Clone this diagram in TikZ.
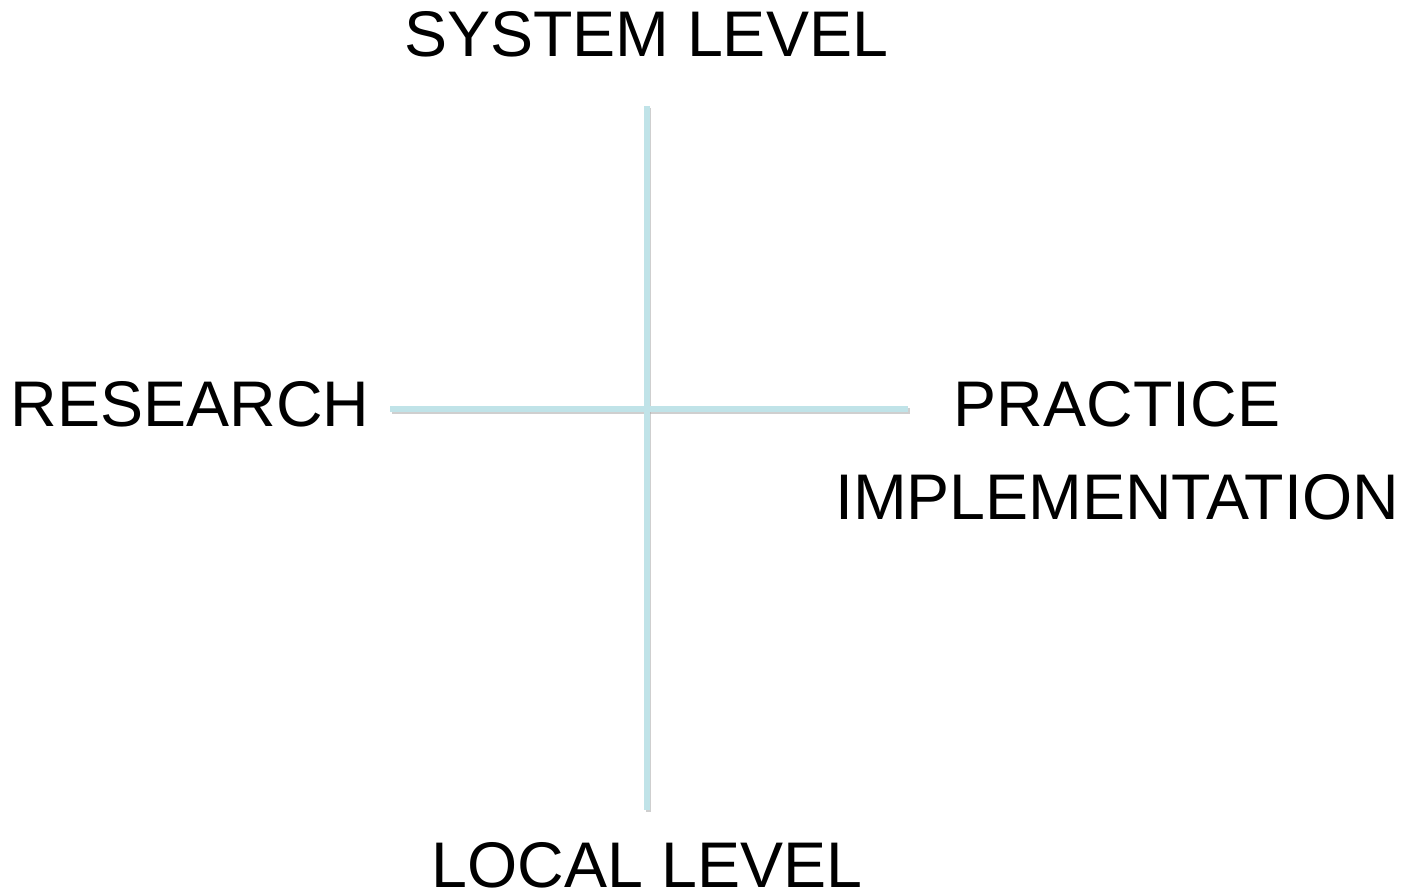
\documentclass[tikz,border=0pt]{standalone}
\usepackage{fontspec}
\setmainfont{Liberation Sans}
\definecolor{axiscol}{HTML}{C0E3E8}
\definecolor{shadowcol}{HTML}{A8A8A8}
\tikzset{
  lbl/.style={anchor=base, inner sep=0pt, text depth=0pt, font=\fontsize{64.5}{64.5}\selectfont, text=black},
  axisline/.style={draw=axiscol, line width=5.5pt},
  axisshadow/.style={draw=shadowcol, line width=5.5pt, opacity=0.55}
}
\begin{document}
\begin{tikzpicture}[x=1pt,y=-1pt]
\useasboundingbox (0,0) rectangle (1414,893);
\coordinate (top) at (647,106);
\coordinate (bot) at (647,810);
\coordinate (lft) at (390,409);
\coordinate (rgt) at (908,409);
\draw[axisshadow] ([shift={(1.5,2)}]lft) -- ([shift={(1.5,2)}]rgt);
\draw[axisshadow] ([shift={(1.5,2)}]top) -- ([shift={(1.5,2)}]bot);
\draw[axisline] (lft) -- (rgt);
\draw[axisline] (top) -- (bot);
\node[lbl] (sys) at (646,57) {SYSTEM LEVEL};
\node[lbl] (loc) at (647,887) {LOCAL LEVEL};
\node[lbl] (res) at (190,426) {RESEARCH};
\node[lbl] (pra) at (1117,426) {PRACTICE};
\node[lbl] (imp) at (1117,519) {IMPLEMENTATION};
\end{tikzpicture}
\end{document}
